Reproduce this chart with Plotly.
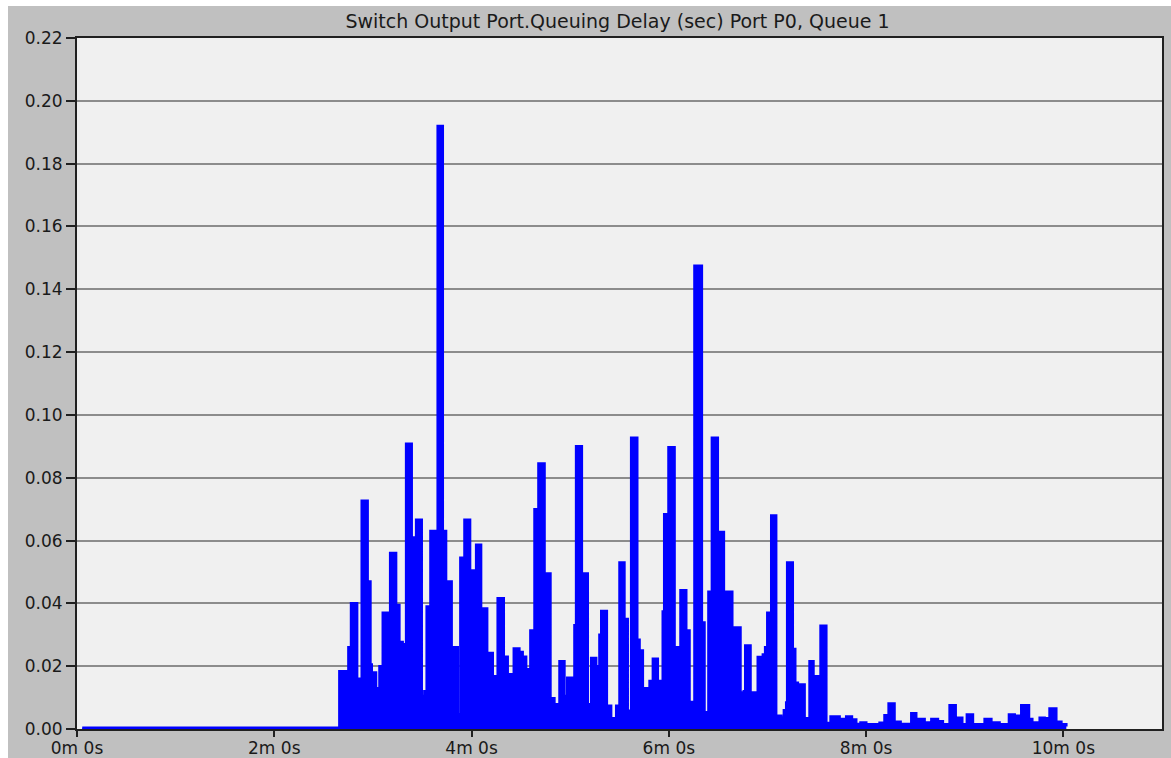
import plotly.graph_objects as go

# Queuing delay samples: time (s) at which each level starts, delay (s)
t_sec = [
    3.2, 159.6, 163.7, 165.1, 166.7, 170.4, 172.2, 173.2, 176.8, 178.5,
    179.3, 181.9, 184.0, 186.0, 189.0, 190.5, 194.1, 196.1, 198.1, 200.2,
    203.6, 206.3, 209.7, 211.3, 212.7, 215.0, 218.5, 219.4, 222.5, 224.5,
    227.9, 231.6, 233.2, 235.7, 239.1, 242.8, 245.8, 249.5, 252.9, 255.0,
    255.9, 259.6, 262.0, 265.7, 269.1, 271.1, 273.2, 275.2, 275.8, 278.3,
    280.7, 284.4, 288.0, 290.4, 293.5, 296.5, 298.2, 301.6, 302.6, 303.6,
    307.1, 310.7, 312.8, 315.8, 316.8, 317.8, 318.9, 322.3, 324.9, 328.0,
    330.0, 333.0, 335.0, 337.1, 340.8, 342.2, 344.2, 346.8, 348.3, 350.3,
    353.3, 355.4, 356.3, 357.2, 359.8, 363.5, 364.5, 367.1, 370.6, 372.6,
    374.6, 375.6, 380.1, 381.7, 384.1, 386.2, 389.8, 393.5, 394.9, 398.6,
    400.0, 403.6, 405.6, 406.5, 409.7, 413.2, 414.1, 417.2, 418.6, 419.9,
    422.3, 425.3, 428.4, 430.0, 431.4, 432.0, 435.4, 436.9, 438.5, 439.5,
    442.6, 445.6, 448.0, 452.3, 455.8, 458.4, 463.9, 467.9, 471.4, 474.0,
    476.6, 480.1, 488.2, 491.2, 493.7, 497.3, 501.0, 507.5, 510.5, 515.6,
    519.7, 523.7, 524.7, 526.7, 530.8, 534.5, 535.8, 538.5, 541.3, 545.0,
    552.1, 556.2, 561.2, 566.9, 570.4, 574.4, 579.1, 581.1, 585.6, 588.6,
    591.6, 595.7, 598.8, 601.8,
]
delay = [
    0.0004, 0.0184, 0.011, 0.026, 0.040, 0.016, 0.0126, 0.0727, 0.047, 0.0205,
    0.018, 0.013, 0.020, 0.037, 0.033, 0.056, 0.0395, 0.0277, 0.027, 0.0908,
    0.061, 0.0666, 0.0105, 0.012, 0.039, 0.063, 0.054, 0.192, 0.063, 0.047,
    0.026, 0.0047, 0.0545, 0.0666, 0.0505, 0.0587, 0.0384, 0.0242, 0.0168, 0.009,
    0.0416, 0.023, 0.0174, 0.0256, 0.0245, 0.023, 0.019, 0.0074, 0.0314, 0.070,
    0.0845, 0.0495, 0.0098, 0.0079, 0.0216, 0.0105, 0.0163, 0.0095, 0.033, 0.090,
    0.0495, 0.0079, 0.0226, 0.020, 0.0126, 0.030, 0.0376, 0.0074, 0.0034, 0.0074,
    0.053, 0.035, 0.0058, 0.0927, 0.0284, 0.025, 0.013, 0.0116, 0.0153, 0.0224,
    0.0153, 0.010, 0.0374, 0.0684, 0.0897, 0.0253, 0.026, 0.0442, 0.0314, 0.0086,
    0.0058, 0.1475, 0.0339, 0.0053, 0.0437, 0.0927, 0.0627, 0.0358, 0.0437, 0.0218,
    0.0323, 0.0116, 0.012, 0.0266, 0.0116, 0.006, 0.0229, 0.0237, 0.026, 0.037,
    0.068, 0.0042, 0.0037, 0.006, 0.0084, 0.053, 0.0255, 0.0147, 0.0074, 0.0142,
    0.0034, 0.0216, 0.0168, 0.0329, 0.0019, 0.004, 0.0032, 0.004, 0.003, 0.0016,
    0.0021, 0.0015, 0.002, 0.0044, 0.0081, 0.0023, 0.0016, 0.005, 0.0032, 0.0021,
    0.0032, 0.0021, 0.0025, 0.0015, 0.0076, 0.0034, 0.0036, 0.0015, 0.0046, 0.0015,
    0.0032, 0.0021, 0.0015, 0.0046, 0.0042, 0.0076, 0.0032, 0.0021, 0.0036, 0.0034,
    0.0065, 0.0023, 0.0015, 0.0008,
]

x_tick_vals = [0, 120, 240, 360, 480, 600]
x_tick_text = ["0m 0s", "2m 0s", "4m 0s", "6m 0s", "8m 0s", "10m 0s"]
y_tick_vals = [0.00, 0.02, 0.04, 0.06, 0.08, 0.10, 0.12, 0.14, 0.16, 0.18, 0.20, 0.22]

TITLE = "Switch Output Port.Queuing Delay (sec) Port P0, Queue 1"
FONT = "DejaVu Sans"

fig = go.Figure()
fig.add_trace(go.Scatter(
    x=t_sec, y=delay,
    mode="lines",
    line=dict(color="#0000ff", width=2.5, shape="hv"),
    fill="tozeroy",
    fillcolor="#0000ff",
    hoverinfo="x+y",
    showlegend=False,
))

W, H = 1171, 758
ML, MR, MT, MB = 77, 9, 38, 29
pw, ph = W - ML - MR, H - MT - MB


def px_x(p):
    return (p - ML) / pw


def px_y(p):
    return (H - MB - p) / ph


fig.update_layout(
    width=W, height=H,
    margin=dict(l=ML, r=MR, t=MT, b=MB, pad=0, autoexpand=False),
    paper_bgcolor="#c0c0c0",
    plot_bgcolor="#f0f0f0",
    font=dict(family=FONT, size=16, color="#1a1a1a"),
    title=dict(
        text=TITLE, x=px_x(617.5), xref="paper", xanchor="center",
        y=1 - 21 / H, yref="container", yanchor="middle",
        font=dict(family=FONT, size=19, color="#1a1a1a"),
    ),
    shapes=[
        # white frame strips around the grey panel
        dict(type="rect", xref="paper", yref="paper",
             x0=px_x(0), x1=px_x(8), y0=px_y(H), y1=px_y(0),
             fillcolor="white", line=dict(width=0), layer="above"),
        dict(type="rect", xref="paper", yref="paper",
             x0=px_x(0), x1=px_x(W), y0=px_y(6), y1=px_y(0),
             fillcolor="white", line=dict(width=0), layer="above"),
    ],
)

fig.update_xaxes(
    range=[0, 660], automargin=False,
    tickmode="array", tickvals=x_tick_vals, ticktext=x_tick_text,
    ticks="outside", ticklen=6, tickwidth=2, tickcolor="#202020",
    ticklabelstandoff=-3,
    showgrid=False, zeroline=False,
    showline=True, linecolor="#202020", linewidth=2, mirror=True,
    tickfont=dict(family=FONT, size=17, color="#1a1a1a"),
    fixedrange=True,
)
fig.update_yaxes(
    range=[0, 0.22], automargin=False,
    tickmode="array", tickvals=y_tick_vals, tickformat=".2f",
    ticks="outside", ticklen=9, tickwidth=1.5, tickcolor="#202020",
    showgrid=True, gridcolor="#8c8c8c", gridwidth=1.5,
    zeroline=False,
    showline=True, linecolor="#202020", linewidth=2, mirror=True,
    tickfont=dict(family=FONT, size=17, color="#1a1a1a"),
    fixedrange=True,
)

fig.write_html("out.html")
